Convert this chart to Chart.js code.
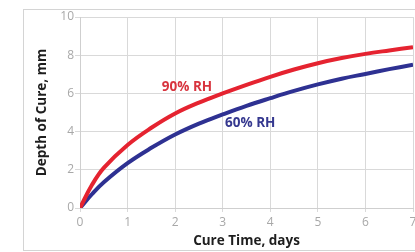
<!DOCTYPE html>
<html><head><meta charset="utf-8">
<script src="https://cdn.jsdelivr.net/npm/chart.js@4"></script>
<style>
html,body{margin:0;padding:0;background:#fff;overflow:hidden;}
#box{position:absolute;left:23px;top:9px;width:500px;height:240px;border:1px solid #d4d4d4;}
#c{position:absolute;left:0;top:0;}
</style></head><body>
<div id="box"></div>
<canvas id="c" width="415" height="252"></canvas>
<script>
const days = [0, 0.25, 0.5, 1, 1.5, 2, 2.5, 3, 3.5, 4, 4.5, 5, 5.5, 6, 6.5, 7];
const rh90 = [0, 1.2, 2.1, 3.3, 4.2, 4.95, 5.52, 6.0, 6.45, 6.87, 7.25, 7.58, 7.85, 8.07, 8.25, 8.42];
const rh60 = [0, 0.72, 1.35, 2.35, 3.15, 3.85, 4.42, 4.9, 5.35, 5.75, 6.13, 6.47, 6.77, 7.02, 7.27, 7.5];
const xTicks = [0, 1, 2, 3, 4, 5, 6, 7];
const yTicks = [0, 2, 4, 6, 8, 10];
const seriesNames = ['90% RH', '60% RH'];
const labelPos = [[1.72, 6.33], [3.05, 4.45]];
const colors = ['#e52330', '#2e3192'];
const labelColors = ['#d8343e', '#35388f'];

const labelPlugin = {
  id: 'seriesLabels',
  afterDatasetsDraw(chart) {
    const {ctx, scales: {x, y}} = chart;
    ctx.save();
    ctx.font = 'bold 13.5px "Open Sans", sans-serif';
    ctx.textBaseline = 'middle';
    ctx.textAlign = 'left';
    seriesNames.forEach((n, i) => {
      ctx.fillStyle = labelColors[i];
      ctx.fillText(n, x.getPixelForValue(labelPos[i][0]), y.getPixelForValue(labelPos[i][1]));
    });
    ctx.restore();
  }
};

new Chart(document.getElementById('c'), {
  type: 'line',
  data: {
    datasets: [
      {label: seriesNames[0], data: days.map((d, i) => ({x: d, y: rh90[i]})), borderColor: colors[0], borderWidth: 4, pointRadius: 0, tension: 0.4, fill: false},
      {label: seriesNames[1], data: days.map((d, i) => ({x: d, y: rh60[i]})), borderColor: colors[1], borderWidth: 4, pointRadius: 0, tension: 0.4, fill: false}
    ]
  },
  options: {
    responsive: false,
    animation: false,
    layout: {padding: {top: 17, right: 2, left: 0, bottom: 0}},
    plugins: {legend: {display: false}, tooltip: {enabled: false}},
    scales: {
      x: {
        type: 'linear', min: 0, max: 7,
        afterBuildTicks(s) { s.ticks = xTicks.map(v => ({value: v})); },
        afterFit(s) { s.height = 44; s.paddingLeft = 0; s.paddingRight = 0; },
        grid: {color: '#d9d9d9', tickLength: 4},
        border: {color: '#cfcfcf'},
        ticks: {color: '#a8a8a8', font: {family: '"Open Sans", sans-serif', size: 12}, padding: 3},
        title: {display: true, text: 'Cure Time, days', color: '#1e1e1e', font: {family: '"Open Sans", sans-serif', size: 13.5, weight: 'bold'}, padding: {top: 0, bottom: 3}}
      },
      y: {
        min: 0, max: 10,
        afterBuildTicks(s) { s.ticks = yTicks.map(v => ({value: v})); },
        afterFit(s) { s.width = 80; s.paddingTop = 0; s.paddingBottom = 0; },
        grid: {color: '#d9d9d9', tickLength: 5},
        border: {color: '#cfcfcf'},
        ticks: {color: '#a8a8a8', font: {family: '"Open Sans", sans-serif', size: 12}, padding: 1},
        title: {display: true, text: 'Depth of Cure, mm', color: '#1e1e1e', font: {family: '"Open Sans", sans-serif', size: 13.5, weight: 'bold'}, padding: {top: 34, bottom: 0}}
      }
    }
  },
  plugins: [labelPlugin]
});
</script>
</body></html>
